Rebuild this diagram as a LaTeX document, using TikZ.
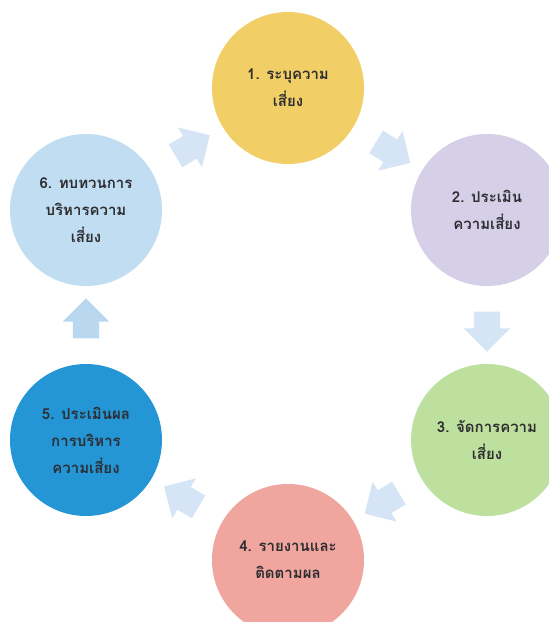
\documentclass[tikz,border=0pt]{standalone}
\usepackage{fontspec}
\newfontfamily\thaifont[Script=Thai]{Loma}
\usetikzlibrary{shapes.arrows,calc}
\definecolor{cyellow}{RGB}{242,206,102}
\definecolor{clav}{RGB}{213,207,231}
\definecolor{cgreen}{RGB}{190,224,158}
\definecolor{cpink}{RGB}{240,166,158}
\definecolor{cblue}{RGB}{36,150,213}
\definecolor{clblue}{RGB}{192,221,241}
\definecolor{carrow}{RGB}{214,229,245}
\definecolor{carrowb}{RGB}{186,215,240}
\definecolor{ctext}{RGB}{45,45,50}
\begin{document}
\begin{tikzpicture}[x=1pt,y=-1pt,
  stage/.style={circle, minimum size=152pt, inner sep=0pt, align=center,
    font=\thaifont\bfseries\fontsize{15pt}{27pt}\selectfont, text=ctext},
  cyclearrow/.style={single arrow, minimum height=40pt, inner xsep=0pt,
    inner ysep=13pt, single arrow head extend=10pt, fill=#1, draw=none,
    sloped, allow upside down, midway}]
\fill[white] (0,0) rectangle (549,622);
\useasboundingbox (0,0) rectangle (549,622);
\begin{scope}
\clip (0,0) rectangle (549,622);
\node[stage, fill=cyellow] (s1) at (288,88) {1. ระบุความ\\เสี่ยง};
\node[stage, fill=clav] (s2) at (487,210) {2. ประเมิน\\ความเสี่ยง};
\node[stage, fill=cgreen] (s3) at (487,440) {3. จัดการความ\\เสี่ยง};
\node[stage, fill=cpink] (s4) at (288,560) {4. รายงานและ\\ติดตามผล};
\node[stage, fill=cblue] (s5) at (86,440) {5. ประเมินผล\\การบริหาร\\ความเสี่ยง};
\node[stage, fill=clblue] (s6) at (86,210) {6. ทบทวนการ\\บริหารความ\\เสี่ยง};
\end{scope}
\path (s1) -- node[cyclearrow=carrow] (a12) {} (s2);
\path (s2) -- node[cyclearrow=carrow] (a23) {} (s3);
\path (s3) -- node[cyclearrow=carrow] (a34) {} (s4);
\path (s4) -- node[cyclearrow=carrow] (a45) {} (s5);
\path (s5) -- node[cyclearrow=carrowb] (a56) {} (s6);
\path (s6) -- node[cyclearrow=carrow] (a61) {} (s1);
\end{tikzpicture}
\end{document}
